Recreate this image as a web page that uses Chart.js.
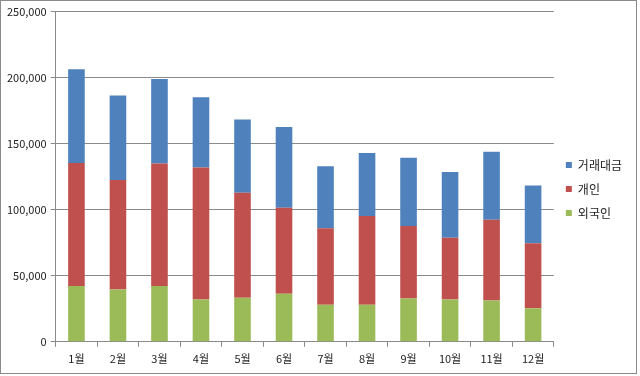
<!DOCTYPE html>
<html>
<head>
<meta charset="utf-8">
<script src="https://cdn.jsdelivr.net/npm/chart.js@4/dist/chart.umd.min.js"></script>
<style>
  html, body { margin: 0; padding: 0; background: #fff; }
  #frame {
    position: absolute; left: 0; top: 0;
    width: 637px; height: 374px;
    box-sizing: border-box;
    border: 1px solid #8a8a8a;
  }
  #wrap { position: relative; width: 635px; height: 372px; }
</style>
</head>
<body>
<div id="frame"><div id="wrap"><canvas id="chart"></canvas></div></div>
<script>
const months = ["1월", "2월", "3월", "4월", "5월", "6월", "7월", "8월", "9월", "10월", "11월", "12월"];
const foreign = [42200, 39600, 42200, 32000, 33300, 36400, 28000, 28000, 32800, 32000, 31200, 25400];
const personal = [93200, 82900, 92700, 99900, 79500, 65000, 58000, 67300, 54900, 46800, 61300, 49300];
const tradeValue = [70900, 64000, 64000, 53300, 55600, 61200, 47000, 47700, 51600, 49800, 51300, 43700];
const yTicks = [0, 50000, 100000, 150000, 200000, 250000];

const font = { family: "'Noto Sans CJK KR', 'Noto Sans', sans-serif", size: 11 };
const lineColor = "#8a8a8a";

new Chart(document.getElementById("chart"), {
  type: "bar",
  data: {
    labels: months,
    datasets: [
      { label: "외국인", data: foreign, backgroundColor: "#9BBB59" },
      { label: "개인", data: personal, backgroundColor: "#C0504D" },
      { label: "거래대금", data: tradeValue, backgroundColor: "#4F81BD" },
    ],
  },
  options: {
    responsive: true,
    maintainAspectRatio: false,
    animation: false,
    datasets: { bar: { categoryPercentage: 1, barPercentage: 0.4 } },
    layout: { padding: { top: 7, right: 4, left: 2, bottom: 3 } },
    scales: {
      x: {
        stacked: true,
        grid: { offset: true, drawOnChartArea: false, drawTicks: true, tickLength: 5, color: lineColor },
        border: { color: lineColor },
        ticks: { font: font, color: "#222", padding: 5, maxRotation: 0 },
      },
      y: {
        stacked: true,
        min: 0,
        max: 250000,
        afterBuildTicks: (axis) => { axis.ticks = yTicks.map((v) => ({ value: v })); },
        grid: { color: lineColor, tickLength: 5 },
        border: { color: lineColor },
        ticks: {
          font: font,
          color: "#222",
          padding: 4,
          callback: (v) => v.toLocaleString("en-US"),
        },
      },
    },
    plugins: {
      legend: {
        position: "right",
        reverse: true,
        labels: {
          font: { family: font.family, size: 12 },
          color: "#222",
          boxWidth: 6,
          boxHeight: 6,
          padding: 12,
        },
      },
      tooltip: { enabled: false },
    },
  },
});
</script>
</body>
</html>
